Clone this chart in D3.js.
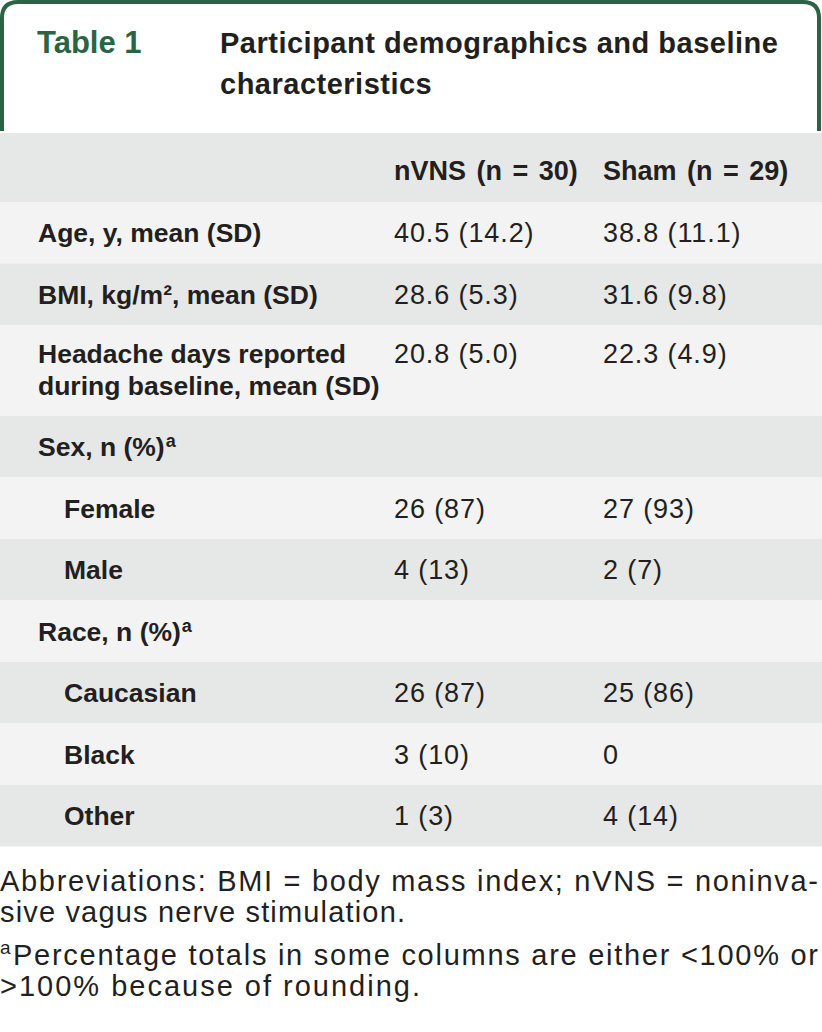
<!DOCTYPE html>
<html>
<head>
<meta charset="utf-8">
<script src="https://cdn.jsdelivr.net/npm/d3@7"></script>
<style>
  body { margin: 0; background: #fff; }
  svg { display: block; }
  .lab { font-family: "Liberation Sans", Arial, sans-serif; font-weight: 700; fill: #231f20; }
  .val { font-family: "Liberation Sans", Arial, sans-serif; font-weight: 400; fill: #231f20; }
  .foot { font-family: "Liberation Sans", Arial, sans-serif; fill: #231f20; }
</style>
</head>
<body>
<div id="chart-area"></div>
<script>
// table content
var titleLabel = "Table 1";
var titleLines = ["Participant demographics and baseline", "characteristics"];
var colHeads = ["nVNS (n = 30)", "Sham (n = 29)"];

var rowLabels = [
	["Age, y, mean (SD)"],
	["BMI, kg/m\u00B2, mean (SD)"],
	["Headache days reported", "during baseline, mean (SD)"],
	["Sex, n (%)"],
	["Female"],
	["Male"],
	["Race, n (%)"],
	["Caucasian"],
	["Black"],
	["Other"]
];
var rowIndent = [false, false, false, false, true, true, false, true, true, true];
var rowNote = ["", "", "", "a", "", "", "a", "", "", ""];
var nvnsValues = ["40.5 (14.2)", "28.6 (5.3)", "20.8 (5.0)", "", "26 (87)", "4 (13)", "", "26 (87)", "3 (10)", "1 (3)"];
var shamValues = ["38.8 (11.1)", "31.6 (9.8)", "22.3 (4.9)", "", "27 (93)", "2 (7)", "", "25 (86)", "0", "4 (14)"];

var footLines = [
	"Abbreviations: BMI = body mass index; nVNS = noninva-",
	"sive vagus nerve stimulation.",
	"Percentage totals in some columns are either <100% or",
	">100% because of rounding."
];
var footMark = "a";

//svg setting
var width = 822, height = 1032;
var svg = d3.select("#chart-area")
	.append("svg")
		.attr("width", width)
		.attr("height", height);

var green = "#2a6444",
	darkRow = "#e6e8e7",
	lightRow = "#f2f3f2";

//frame around the caption
var fr = 16;
svg.append("path")
	.attr("d", "M2,131 L2," + (2 + fr) + " Q2,2 " + (2 + fr) + ",2 L" + (819 - fr) + ",2 Q819,2 819," + (2 + fr) + " L819,131")
	.attr("fill", "none")
	.attr("stroke", green)
	.attr("stroke-width", 4);

svg.append("text")
	.attr("class", "lab")
	.attr("x", 37).attr("y", 53)
	.style("font-size", "31px")
	.style("fill", green)
	.text(titleLabel);

svg.selectAll(".title")
	.data(titleLines)
	.enter().append("text")
		.attr("class", "lab title")
		.attr("x", 220)
		.attr("y", (d, i) => 53 + i * 41)
		.style("font-size", "29px")
		.style("letter-spacing", "0.5px")
		.text(d => d);

//row layout
var headTop = 133, headH = 69, rowH = 61.5, lineH = 32;
var rowTops = [], acc = headTop + headH;
rowLabels.forEach(d => {
	rowTops.push(acc);
	acc += rowH + (d.length - 1) * 29.5;
});
rowTops.push(acc);

var colX = [394, 603];

//header band
svg.append("rect")
	.attr("x", 0).attr("y", headTop)
	.attr("width", width).attr("height", headH)
	.attr("fill", darkRow);

svg.selectAll(".head")
	.data(colHeads)
	.enter().append("text")
		.attr("class", "lab head")
		.attr("x", (d, i) => colX[i])
		.attr("y", headTop + 47)
		.style("font-size", "27px")
		.style("word-spacing", "3px")
		.text(d => d);

//rows
var rows = svg.selectAll(".row")
	.data(rowLabels)
	.enter().append("g")
		.attr("class", "row")
		.attr("transform", (d, i) => "translate(0," + rowTops[i] + ")");

rows.append("rect")
	.attr("width", width)
	.attr("height", (d, i) => rowTops[i + 1] - rowTops[i])
	.attr("fill", (d, i) => i % 2 == 0 ? lightRow : darkRow);

rows.each(function(d, i) {
	var r = d3.select(this);
	var base = d.length > 1 ? 38 : 40;
	var t = r.append("text")
		.attr("class", "lab")
		.attr("x", rowIndent[i] ? 64 : 38)
		.style("font-size", "26.5px");
	d.forEach((line, j) => {
		t.append("tspan")
			.attr("x", rowIndent[i] ? 64 : 38)
			.attr("y", base + j * lineH)
			.text(line);
	});
	if (rowNote[i]) {
		t.append("tspan")
			.attr("dx", 1)
			.attr("dy", -9)
			.style("font-size", "18px")
			.text(rowNote[i]);
	}
	[nvnsValues[i], shamValues[i]].forEach((v, k) => {
		r.append("text")
			.attr("class", "val")
			.attr("x", colX[k]).attr("y", base)
			.style("font-size", "27px")
			.style("letter-spacing", "0.9px")
			.text(v);
	});
});

//footnotes
var footY = [891, 922, 965, 996];
var footX = [0, 0, 13, 0];
var footLen = [818, 405, 805, 420];
svg.selectAll(".foot")
	.data(footLines)
	.enter().append("text")
		.attr("class", "foot")
		.attr("x", (d, i) => footX[i])
		.attr("y", (d, i) => footY[i])
		.style("font-size", "29px")
		.attr("textLength", (d, i) => footLen[i])
		.attr("lengthAdjust", "spacing")
		.text(d => d);

svg.append("text")
	.attr("class", "foot")
	.attr("x", 0).attr("y", 954)
	.style("font-size", "19px")
	.text(footMark);
</script>
</body>
</html>
